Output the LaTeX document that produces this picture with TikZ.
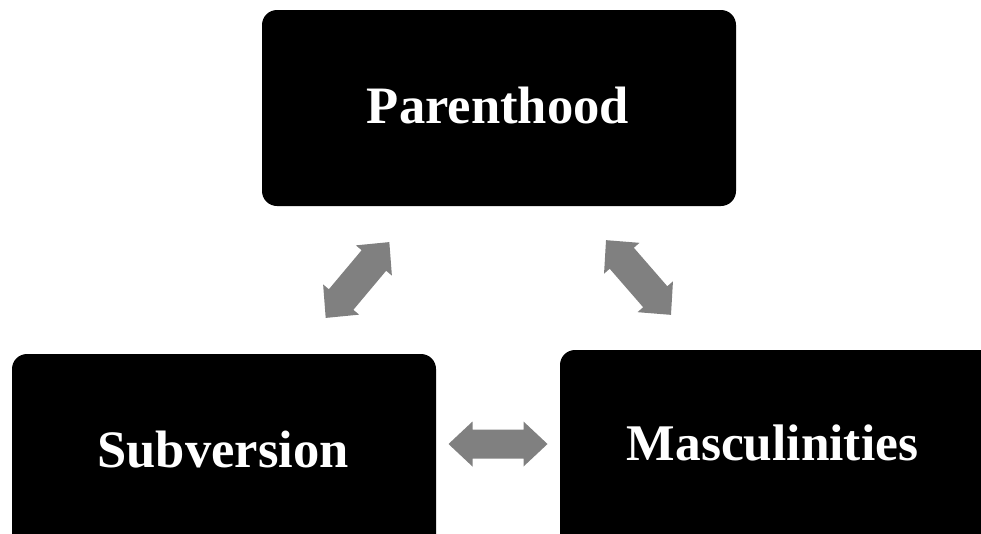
\documentclass[tikz,border=0pt]{standalone}
\usepackage{fontspec}
\setmainfont{Liberation Serif}
\begin{document}
\begin{tikzpicture}[x=1pt,y=-1pt,
  blackbox/.style={fill=black, rounded corners=15pt},
  boxlabel/.style={text=white, font=\fontsize{52.6}{60}\selectfont\bfseries, anchor=base, inner sep=0pt},
  dblarrowfill/.style={fill=black!50, draw=none}]
\useasboundingbox (0,0) rectangle (981,533);
\clip (0,0) rectangle (981,533);
% boxes
\fill[blackbox] (262,10) rectangle (736,206);
\fill[blackbox] (12,354) rectangle (436,550);
\fill[blackbox] (560,350) rectangle (1000,550);
\node[boxlabel] (parent) at (498,123) {Parenthood};
\node[boxlabel] (subv) at (223,467) {Subversion};
\node[boxlabel, font=\fontsize{51.4}{60}\selectfont\bfseries] (masc) at (772.5,460) {Masculinities};
% double arrows
\foreach \cx/\cy/\ang/\sh/\hw in {357.5/280/50/16/23.5, 638.5/277.5/-49/16/23.5, 498/444/0/14.5/22.5}{
  \begin{scope}[shift={(\cx,\cy)}, rotate=\ang]
    \fill[dblarrowfill] (-49.5,0) -- (-25.5,\hw) -- (-25.5,\sh) -- (25.5,\sh) -- (25.5,\hw)
      -- (49.5,0) -- (25.5,-\hw) -- (25.5,-\sh) -- (-25.5,-\sh) -- (-25.5,-\hw) -- cycle;
  \end{scope}
}
\end{tikzpicture}
\end{document}
